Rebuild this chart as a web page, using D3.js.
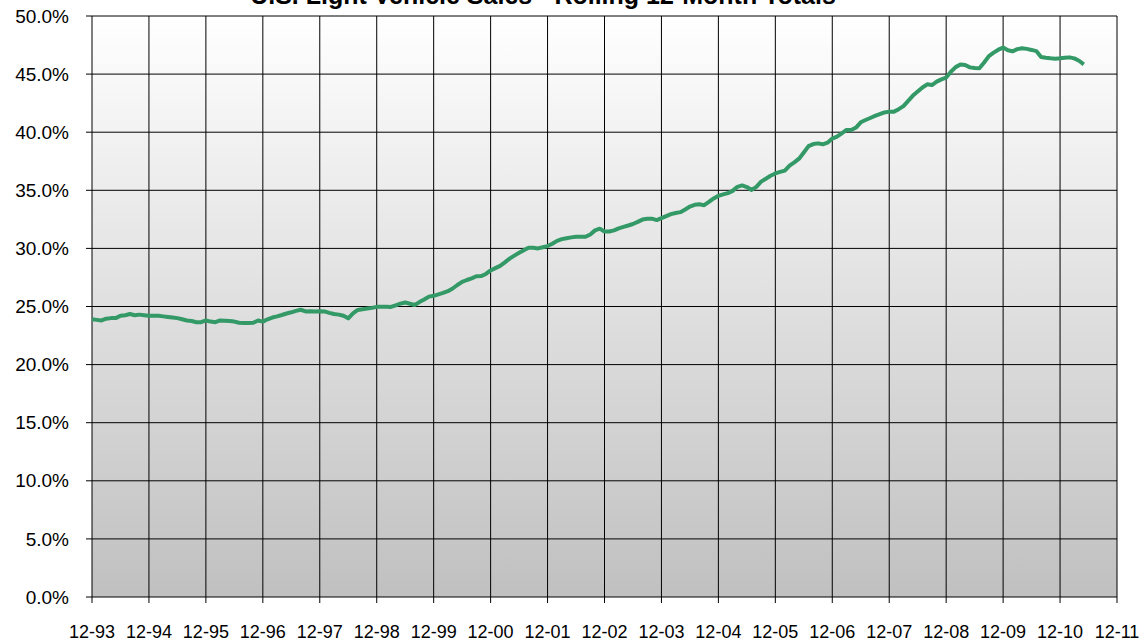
<!DOCTYPE html>
<html>
<head>
  <script src="https://d3js.org/d3.v7.min.js"></script>
  <style>
    body {
      margin: 0;
      background-color: #ffffff;
      font-family: 'Liberation Sans', Arial, sans-serif;
    }
    svg { display: block; }
    .grid line { stroke: #000; stroke-width: 1px; }
    .tick-label { fill: #000; }
  </style>
</head>
<body>
<script>
// Monthly share, Dec 1993 onwards (percent)
const startLabel = "12-93";
const share = [
  23.9, 23.85, 23.8, 23.95, 24.0, 24.0, 24.2, 24.25, 24.35, 24.25, 24.3, 24.25,
  24.2, 24.2, 24.2, 24.15, 24.1, 24.05, 24.0, 23.9, 23.8, 23.75, 23.65, 23.65,
  23.8, 23.7, 23.65, 23.8, 23.78, 23.75, 23.7, 23.6, 23.58, 23.58, 23.6, 23.8,
  23.7, 23.9, 24.05, 24.15, 24.27, 24.4, 24.5, 24.62, 24.72, 24.58, 24.6, 24.58,
  24.6, 24.58, 24.45, 24.35, 24.3, 24.2, 23.98, 24.4, 24.7, 24.77, 24.82, 24.88,
  24.97, 24.97, 24.97, 24.96, 25.1, 25.25, 25.35, 25.24, 25.13, 25.38, 25.6, 25.85,
  25.92, 26.05, 26.17, 26.32, 26.55, 26.85, 27.12, 27.28, 27.42, 27.6, 27.62, 27.8,
  28.1, 28.3, 28.5, 28.8, 29.12, 29.38, 29.62, 29.85, 30.05, 30.05, 30.0, 30.1,
  30.2, 30.4, 30.65, 30.8, 30.88, 30.95, 31.0, 31.0, 31.0, 31.2, 31.55, 31.7,
  31.45, 31.45, 31.55, 31.72, 31.85, 31.97, 32.1, 32.28, 32.48, 32.55, 32.56, 32.44,
  32.6, 32.78, 32.95, 33.05, 33.12, 33.35, 33.6, 33.75, 33.8, 33.72, 34.0, 34.3,
  34.52, 34.65, 34.76, 34.95, 35.3, 35.42, 35.28, 35.03, 35.3, 35.75, 36.0, 36.25,
  36.45, 36.58, 36.7, 37.12, 37.4, 37.72, 38.25, 38.8, 38.98, 39.04, 38.96, 39.1,
  39.45, 39.62, 39.9, 40.19, 40.19, 40.4, 40.85, 41.05, 41.22, 41.4, 41.55, 41.7,
  41.77, 41.77, 41.98, 42.25, 42.7, 43.15, 43.5, 43.85, 44.12, 44.06, 44.35, 44.55,
  44.7, 45.2, 45.6, 45.82, 45.78, 45.58, 45.52, 45.5, 46.0, 46.55, 46.85, 47.1,
  47.28, 47.05, 46.96, 47.15, 47.22, 47.17, 47.08, 46.98, 46.47, 46.4, 46.36, 46.33,
  46.36, 46.4, 46.44, 46.35, 46.15, 45.84
];

const xLabels = ["12-93","12-94","12-95","12-96","12-97","12-98","12-99","12-00","12-01",
  "12-02","12-03","12-04","12-05","12-06","12-07","12-08","12-09","12-10","12-11"];
const yTicks = [0, 5, 10, 15, 20, 25, 30, 35, 40, 45, 50];
const title = "U.S. Light Vehicle Sales - Rolling 12-Month Totals";

const width = 1145, height = 642;
const margin = { left: 92, right: 28, top: 16, bottom: 45 };

const svg = d3.select("body").append("svg")
  .attr("width", width)
  .attr("height", height);

const x = d3.scaleLinear()
  .domain([0, (xLabels.length - 1) * 12])
  .range([margin.left, width - margin.right]);

const y = d3.scaleLinear()
  .domain([0, 50])
  .range([height - margin.bottom, margin.top]);

// plot background gradient
const grad = svg.append("defs").append("linearGradient")
  .attr("id", "bg").attr("x1", 0).attr("y1", 0).attr("x2", 0).attr("y2", 1);
grad.append("stop").attr("offset", "0%").attr("stop-color", "#ffffff");
grad.append("stop").attr("offset", "100%").attr("stop-color", "#c0c0c0");

svg.append("rect")
  .attr("x", x.range()[0])
  .attr("y", y(50))
  .attr("width", x.range()[1] - x.range()[0])
  .attr("height", y(0) - y(50))
  .attr("fill", "url(#bg)");

const xTicks = xLabels.map((d, i) => i * 12);

// vertical grid
svg.append("g").attr("class", "grid")
  .selectAll("line").data(xTicks).join("line")
  .attr("x1", d => x(d)).attr("x2", d => x(d))
  .attr("y1", y(50)).attr("y2", y(0) + 6)
  .attr("stroke", "#333");

// horizontal grid
svg.append("g").attr("class", "grid")
  .selectAll("line").data(yTicks).join("line")
  .attr("x1", x.range()[0] - 6).attr("x2", x.range()[1])
  .attr("y1", d => y(d)).attr("y2", d => y(d));

// y labels
svg.append("g")
  .selectAll("text").data(yTicks).join("text")
  .attr("class", "tick-label")
  .attr("x", 69)
  .attr("y", d => y(d))
  .attr("dy", "0.35em")
  .attr("text-anchor", "end")
  .attr("font-size", 19)
  .text(d => d3.format(".1f")(d) + "%");

// x labels
svg.append("g")
  .selectAll("text").data(xTicks).join("text")
  .attr("class", "tick-label")
  .attr("x", d => x(d))
  .attr("y", 638)
  .attr("text-anchor", "middle")
  .attr("font-size", 18)
  .text((d, i) => xLabels[i]);

// line
const line = d3.line()
  .x((d, i) => x(i))
  .y(d => y(d));

svg.append("path")
  .datum(share)
  .attr("fill", "none")
  .attr("stroke", "#339966")
  .attr("stroke-width", 4)
  .attr("stroke-linejoin", "round")
  .attr("d", line);

// title (partially cropped at the top, as in the source)
svg.append("text")
  .attr("x", 543)
  .attr("y", 4)
  .attr("text-anchor", "middle")
  .attr("font-size", 25)
  .attr("font-weight", "bold")
  .text(title);
</script>
</body>
</html>
